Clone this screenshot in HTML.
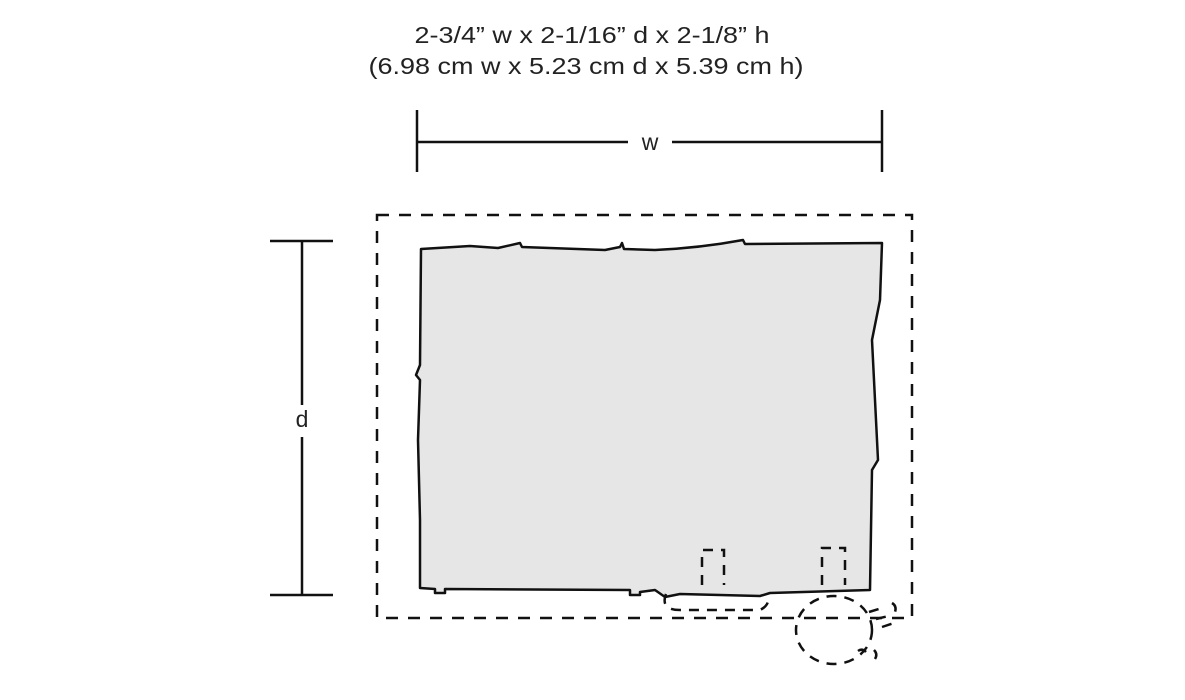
<!DOCTYPE html>
<html><head><meta charset="utf-8"><style>
html,body{margin:0;padding:0;background:#fff;width:1185px;height:700px;overflow:hidden}
</style></head><body>
<svg width="1185" height="700" viewBox="0 0 1185 700" xmlns="http://www.w3.org/2000/svg">
<g font-family="Liberation Sans, sans-serif" font-size="23" fill="#222" text-anchor="middle">
<text x="592" y="43" textLength="355" lengthAdjust="spacingAndGlyphs">2-3/4” w x 2-1/16” d x 2-1/8” h</text>
<text x="586" y="74" textLength="435" lengthAdjust="spacingAndGlyphs">(6.98 cm w x 5.23 cm d x 5.39 cm h)</text>
<text x="650" y="150">w</text>
<text x="302" y="427">d</text>
</g>
<g stroke="#111" stroke-width="2.5" fill="none">
<line x1="417" y1="110" x2="417" y2="172"/>
<line x1="882" y1="110" x2="882" y2="172"/>
<line x1="417" y1="142" x2="628" y2="142"/>
<line x1="672" y1="142" x2="882" y2="142"/>
<line x1="270" y1="241" x2="333" y2="241"/>
<line x1="270" y1="595" x2="333" y2="595"/>
<line x1="302" y1="241" x2="302" y2="405"/>
<line x1="302" y1="437" x2="302" y2="595"/>
</g>
<g stroke="#111" stroke-width="2.5" fill="none" stroke-dasharray="12,10">
<rect x="377" y="215" width="535" height="403"/>
</g>
<g stroke="#111" stroke-width="2.5" fill="none" stroke-dasharray="10,8">
<ellipse cx="834" cy="630" rx="38" ry="34"/>
<path d="M869,612 L885,607 M876,619 L893,615 M882,627 L897,622"/>
<path d="M892,603 Q897,606 895,612"/>
<path d="M858,651 Q862,648 866,652 M874,650 Q878,654 875,659"/>
</g>
<path d="M421,249 L470,246 L498,248 L520,243 L522,247 L605,250 L620,247 L622,243 L624,249 L655,250 Q700,248 743,240 L745,244 L882,243 L880,300 L872,340 L875,400 L878,460 L872,470 L870,590 L770,593 L760,596 L680,594 L665,597 L655,590 L640,592 L640,595 L630,595 L630,590 L445,589 L445,593 L435,593 L435,589 L420,588 L420,520 L418,440 L420,380 L416,375 L420,365 Z" fill="#e6e6e6" stroke="#111" stroke-width="2.5" stroke-linejoin="round"/>
<g stroke="#111" stroke-width="2.5" fill="none" stroke-dasharray="10,8">
<path d="M666,594 Q660,610 680,610 L760,610 Q770,605 768,596"/>
<path d="M702,585 L702,550 L724,550 L724,585"/>
<path d="M822,585 L822,548 L845,548 L845,585"/>
</g>
</svg>
</body></html>
